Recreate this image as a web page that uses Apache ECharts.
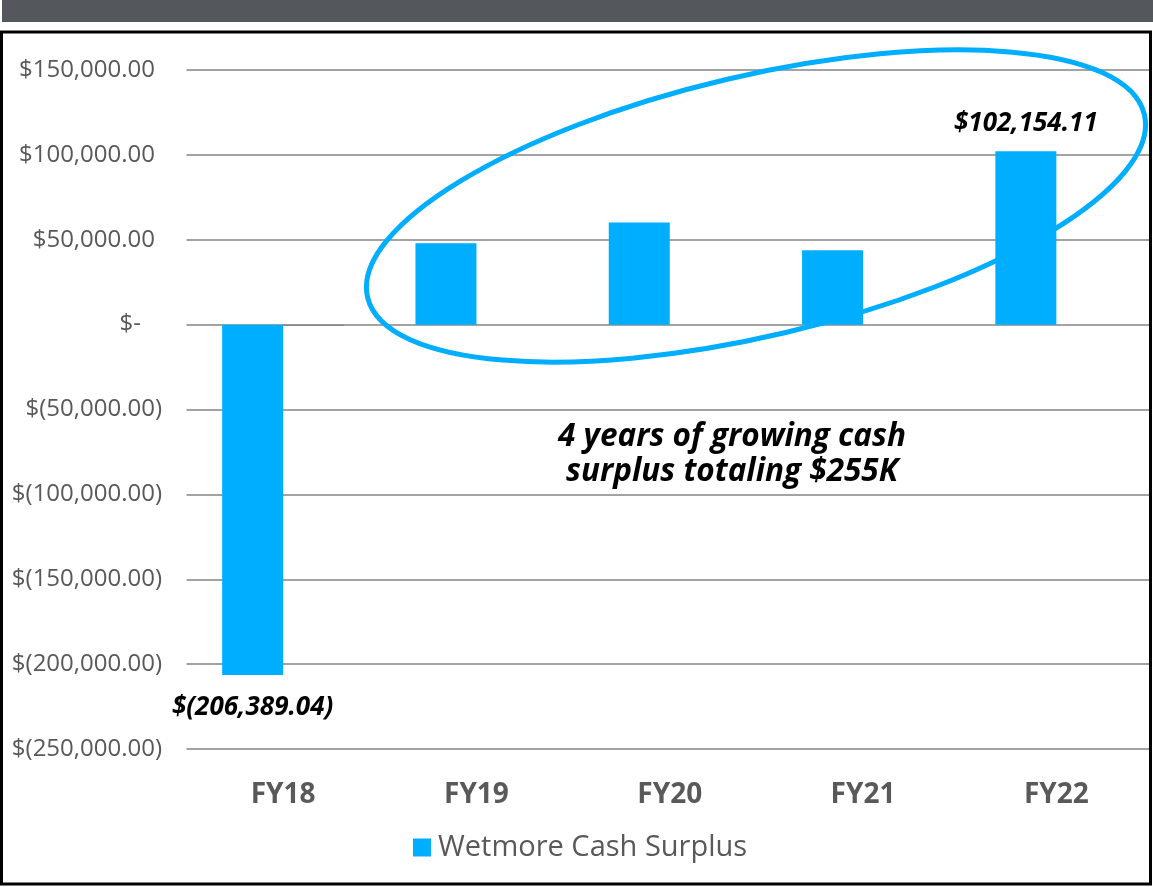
<!DOCTYPE html>
<html>
<head>
<meta charset="utf-8">
<script src="https://cdn.jsdelivr.net/npm/echarts@6/dist/echarts.min.js"></script>
<style>
html,body{margin:0;padding:0;background:#fff;}
#chart{width:1153px;height:887px;}
</style>
</head>
<body>
<div id="chart"></div>
<script>
// ---- data ----
const categories = ['FY18', 'FY19', 'FY20', 'FY21', 'FY22'];
const surplus = [-206389.04, 48000, 60200, 43800, 102154.11];
const secondary = [-700, 0, 0, 0, 0];
const labeledCategories = ['FY18', 'FY22'];
const seriesName = 'Wetmore Cash Surplus';
const annotation = '4 years of growing cash\nsurplus totaling $255K';
const yMin = -250000, yMax = 150000, yStep = 50000;

const FONT = '"Open Sans", "Noto Sans", sans-serif';
const GREY = '#595959';
const BLUE = '#00aeff';

function money(v) {
  return Math.abs(v).toLocaleString('en-US', {minimumFractionDigits: 2, maximumFractionDigits: 2});
}
function axisFmt(v) {
  if (v === 0) return '{z|$-}';
  return v < 0 ? '{n|$(' + money(v) + ')}' : '{p|$' + money(v) + '}';
}
function labelFmt(p) {
  const v = p.value;
  return v < 0 ? '$(' + money(v) + ')' : '$' + money(v);
}

const mainData = surplus.map((v, i) => {
  const show = labeledCategories.indexOf(categories[i]) >= 0;
  return {
    value: v,
    label: {
      show: show,
      position: v < 0 ? 'bottom' : 'top',
      distance: v < 0 ? 20 : 15
    }
  };
});

const chart = echarts.init(document.getElementById('chart'), null, {renderer: 'canvas'});
const axisRich = {
  n: {fontFamily: FONT, fontSize: 24, color: GREY},
  p: {fontFamily: FONT, fontSize: 24, color: GREY, padding: [0, 7, 0, 0]},
  z: {fontFamily: FONT, fontSize: 24, color: GREY, padding: [0, 21, 0, 0]}
};
chart.setOption({
  animation: false,
  backgroundColor: '#ffffff',
  grid: {left: 186.5, right: 0, top: 70, bottom: 138, containLabel: false},
  legend: {
    data: [seriesName],
    left: 413, top: 833,
    padding: 0,
    itemWidth: 18, itemHeight: 18,
    itemGap: 7,
    icon: 'rect',
    textStyle: {fontFamily: FONT, fontSize: 29, color: GREY, padding: [0, 0, 0, 2]}
  },
  xAxis: {
    type: 'category',
    data: categories,
    axisLine: {show: false, onZero: false},
    axisTick: {show: false},
    axisLabel: {fontFamily: FONT, fontSize: 28, fontWeight: 'bold', color: GREY, margin: 32}
  },
  yAxis: {
    type: 'value',
    min: yMin, max: yMax, interval: yStep,
    axisLine: {show: false},
    axisTick: {show: false},
    splitLine: {lineStyle: {color: '#a3a3a3', width: 2}},
    axisLabel: {formatter: axisFmt, rich: axisRich, margin: 24.5}
  },
  series: [
    {
      name: seriesName,
      type: 'bar',
      data: mainData,
      barWidth: 61,
      barGap: '0%',
      itemStyle: {color: BLUE},
      label: {
        formatter: labelFmt,
        fontFamily: FONT, fontSize: 26, fontWeight: 'bold', fontStyle: 'italic', color: '#000'
      },
      z: 2
    },
    {
      name: 'secondary',
      type: 'bar',
      data: secondary,
      barWidth: 61,
      barGap: '0%',
      itemStyle: {color: '#7a7a7a'},
      z: 2
    }
  ],
  graphic: [
    {type: 'rect', left: 2, top: 0, shape: {width: 1151, height: 22}, style: {fill: '#54575b'}, z: 1},
    {type: 'rect', x: 1151, y: 30, shape: {x: 0, y: 0, width: 2, height: 857}, style: {fill: '#ffffff'}, z: 20},
    {type: 'rect', x: 1.5, y: 32, shape: {x: 0, y: 0, width: 1149, height: 852}, style: {fill: null, stroke: '#000', lineWidth: 3}, z: 21},
    {type: 'ellipse', x: 756, y: 206, rotation: 13.24 * Math.PI / 180,
     shape: {cx: 0, cy: 0, rx: 399, ry: 130},
     style: {fill: null, stroke: BLUE, lineWidth: 5}, z: 10},
    {type: 'text', x: 732, y: 455,
     style: {text: annotation, fontFamily: FONT, fontSize: 31.5, fontWeight: 'bold', fontStyle: 'italic',
             fill: '#000', align: 'center', verticalAlign: 'middle', lineHeight: 35}, z: 10}
  ]
});
</script>
</body>
</html>
